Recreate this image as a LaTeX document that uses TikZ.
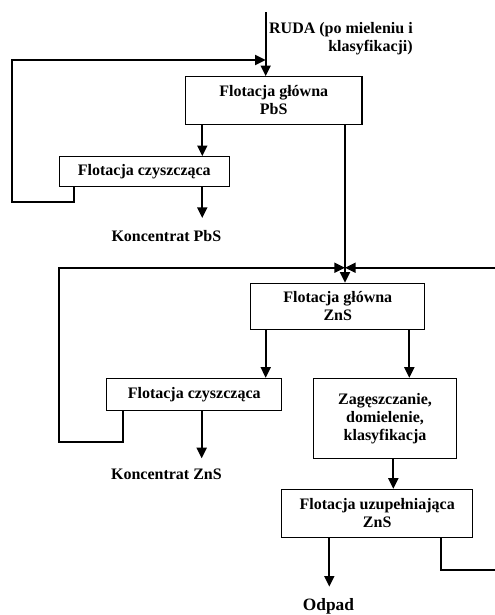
\documentclass[tikz,border=0pt]{standalone}
\usepackage{fontspec}
\setmainfont{Liberation Serif}
\usetikzlibrary{arrows.meta}
\begin{document}
\begin{tikzpicture}[x=0.75pt,y=-0.75pt,
  txt/.style={font=\fontsize{12pt}{13.5pt}\selectfont\bfseries},
  box/.style={txt, draw, line width=0.8pt, inner sep=0pt, align=center},
  lbl/.style={txt, inner sep=0pt},
  link/.style={line width=1.4pt},
  flow/.style={link, -{Triangle[length=8pt,width=7.5pt]}}]
\useasboundingbox (0,0) rectangle (495,615);
\clip (0,0) rectangle (495,615);

% process stages
\node[box, minimum width=132.4pt, minimum height=35.7pt] (pbs) at (273.75,100.5) {Flotacja główna\\PbS};
\node[box, minimum width=127.5pt, minimum height=22.5pt] (cza) at (144.3,171.7) {Flotacja czyszcząca};
\node[box, minimum width=130.7pt, minimum height=34.6pt] (zns) at (337.8,306.4) {Flotacja główna\\ZnS};
\node[box, minimum width=131.25pt, minimum height=24.3pt] (czb) at (194.2,394.5) {Flotacja czyszcząca};
\node[box, minimum width=107.5pt, minimum height=60pt] (zag) at (385,418.3) {Zagęszczanie,\\domielenie,\\klasyfikacja};
\node[box, minimum width=143.25pt, minimum height=36pt] (uzu) at (377.2,513.3) {Flotacja uzupełniająca\\ZnS};

% feed and products
\node[lbl, align=right, anchor=north east] (ruda) at (413,22) {RUDA (po mieleniu i\\klasyfikacji)};
\node[lbl, anchor=base] (kpbs) at (166.4,241) {Koncentrat PbS};
\node[lbl, anchor=base] (kzns) at (166.4,479.5) {Koncentrat ZnS};
\node[lbl, anchor=base, font=\fontsize{13pt}{15pt}\selectfont\bfseries] (odp) at (328.5,610) {Odpad};

% junctions and bends
\coordinate (in) at (265.7,12);
\coordinate (j1) at (265.7,60);
\coordinate (f1a) at (74,202.3);
\coordinate (f1b) at (11.7,202.3);
\coordinate (xa) at (202.3,0);
\coordinate (ka) at (202.3,218);
\coordinate (j2) at (345,267.7);
\coordinate (f2a) at (122.7,442.3);
\coordinate (f2b) at (59,442.3);
\coordinate (f3a) at (441,570);
\coordinate (f3b) at (500,570);
\coordinate (xb) at (265.7,0);
\coordinate (xc) at (409.3,0);
\coordinate (kb) at (201.7,458.3);
\coordinate (xd) at (393.3,0);
\coordinate (od) at (329.3,586.7);

% lead circuit
\draw[flow] (in) -- (pbs.north -| in);
\draw[flow] (cza.south -| f1a) -- (f1a) -- (f1b) |- (j1);
\draw[flow] (pbs.south -| xa) -- (cza.north -| xa);
\draw[flow] (cza.south -| ka) -- (ka);

% zinc circuit
\draw[flow] (pbs.south -| j2) -- (zns.north -| j2);
\draw[flow] (czb.south -| f2a) -- (f2a) -- (f2b) |- (j2);
\draw[flow] (uzu.south -| f3a) -- (f3a) -- (f3b) |- (j2);
\draw[flow] (zns.south -| xb) -- (czb.north -| xb);
\draw[flow] (zns.south -| xc) -- (zag.north -| xc);
\draw[flow] (czb.south -| kb) -- (kb);
\draw[flow] (zag.south -| xd) -- (uzu.north -| xd);
\draw[flow] (uzu.south -| od) -- (od);
\end{tikzpicture}
\end{document}
